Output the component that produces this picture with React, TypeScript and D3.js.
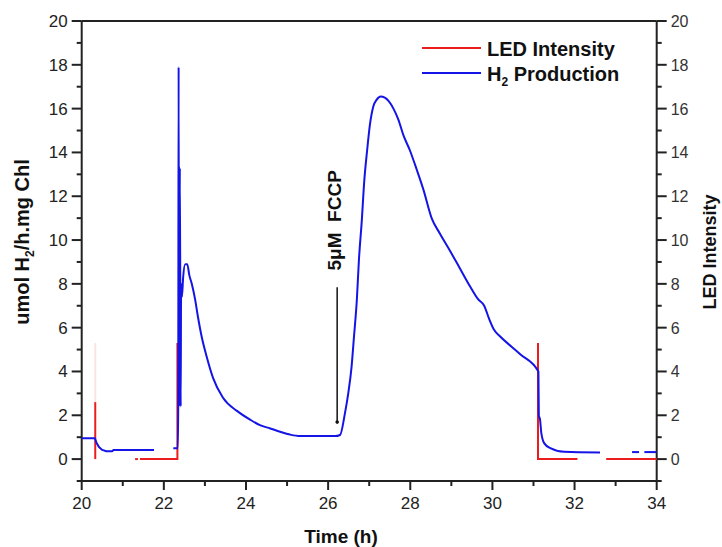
import React from "react";
import * as d3 from "d3";

// ---- data ----
const xTicksMajor = [20, 22, 24, 26, 28, 30, 32, 34];
const xTicksMinor = [21, 23, 25, 27, 29, 31, 33];
const yTicksMajor = [0, 2, 4, 6, 8, 10, 12, 14, 16, 18, 20];
const yTicksMinor = [-1, 1, 3, 5, 7, 9, 11, 13, 15, 17, 19];

// H2 production (umol H2/h.mg Chl), broken into recorded segments
const h2SegA: [number, number][] = [
  [20, 0.95], [20.32, 0.95], [20.36, 0.75], [20.42, 0.55], [20.5, 0.42], [20.6, 0.36],
  [20.74, 0.36], [20.78, 0.42], [21.76, 0.42],
];
const h2SegB: [number, number][] = [
  [22.23, 0.5], [22.34, 0.5], [22.35, 2.4], [22.36, 17.9], [22.37, 2.4], [22.39, 13.3],
  [22.41, 2.4], [22.42, 8.0], [22.44, 7.4], [22.47, 8.3], [22.52, 8.9], [22.57, 8.9],
  [22.62, 8.4], [22.68, 8.0], [22.76, 7.3], [22.83, 6.5], [22.92, 5.6], [23.04, 4.7],
  [23.2, 3.7], [23.44, 2.8], [23.78, 2.2], [24.1, 1.8], [24.34, 1.55], [24.59, 1.4],
  [24.83, 1.25], [25.07, 1.12], [25.32, 1.05], [26.17, 1.05], [26.29, 1.1], [26.41, 2.1],
  [26.49, 3.0], [26.57, 4.2], [26.63, 5.6], [26.7, 7.3], [26.75, 9.1], [26.82, 10.9],
  [26.88, 12.7], [26.95, 14.1], [27.02, 15.3], [27.1, 16.1], [27.18, 16.4], [27.28, 16.55],
  [27.38, 16.5], [27.47, 16.35], [27.59, 16.0], [27.71, 15.5], [27.83, 14.8], [27.99, 14.1],
  [28.16, 13.2], [28.32, 12.3], [28.52, 11.0], [28.72, 10.3], [28.97, 9.5], [29.21, 8.7],
  [29.45, 7.9], [29.65, 7.3], [29.8, 7.0], [29.92, 6.4], [30.04, 5.9], [30.19, 5.6],
  [30.67, 4.8], [31.12, 4.0], [31.13, 2.0], [31.16, 1.8], [31.19, 1.2], [31.26, 0.73],
  [31.41, 0.5], [31.75, 0.33], [32.62, 0.3],
];
const h2SegC: [number, number][] = [[33.4, 0.32], [33.57, 0.32]];
const h2SegD: [number, number][] = [[33.7, 0.32], [34, 0.32]];
const h2Segments = [h2SegA, h2SegB, h2SegC, h2SegD];

// LED intensity
const ledSegA: [number, number][] = [[20.33, 0], [20.33, 2.6]];
const ledSegB: [number, number][] = [[21.3, 0], [21.37, 0]];
const ledSegC: [number, number][] = [[21.42, 0], [22.33, 0], [22.33, 5.3]];
const ledSegD: [number, number][] = [[31.11, 5.3], [31.11, 0], [32.07, 0]];
const ledSegE: [number, number][] = [[32.77, 0], [34, 0]];
const ledSegments = [ledSegA, ledSegB, ledSegC, ledSegD, ledSegE];
const ledFaint: [number, number][] = [[20.33, 2.6], [20.33, 5.3]];

// annotation
const fccpTime = 26.22;
const fccpFrom = 7.85;
const fccpTo = 1.69;
const fccpTextY = 10.9;
const fccpLabel = "5\u03bcM\u00a0\u00a0FCCP";

export default function App() {
  const W = 722, H = 547;
  const x = d3.scaleLinear().domain([20, 34]).range([81.7, 656.7]);
  const y = d3.scaleLinear().domain([-1, 20]).range([481, 21]);
  const line = d3.line<[number, number]>().x(d => x(d[0])).y(d => y(d[1]));
  const smooth = d3.line<[number, number]>().x(d => x(d[0])).y(d => y(d[1])).curve(d3.curveMonotoneX);
  const font = "'Liberation Sans', Arial, sans-serif";
  const blue = "#1414e6";
  const red = "#ec1c1c";
  const axisCol = "#222";
  const x0 = x(20), x1 = x(34), yb = y(-1), yt = y(20);

  return (
    <svg width={W} height={H} style={{ position: "absolute", left: 0, top: 0, background: "#fff" }}
      fontFamily={font}>
      <rect x={0} y={0} width={W} height={H} fill="#fff" />
      {/* frame */}
      <line x1={x0} x2={x1} y1={yt} y2={yt} stroke={axisCol} strokeWidth={2} />
      <line x1={x0} x2={x1} y1={yb} y2={yb} stroke={axisCol} strokeWidth={2} />
      <line x1={x0} x2={x0} y1={yt} y2={yb} stroke={axisCol} strokeWidth={2} />
      <line x1={x1} x2={x1} y1={yt} y2={yb} stroke={axisCol} strokeWidth={2} />

      {/* x ticks */}
      {xTicksMajor.map(t => (
        <g key={"xm" + t}>
          <line x1={x(t)} x2={x(t)} y1={yb} y2={yb + 9} stroke={axisCol} strokeWidth={2} />
          <text x={x(t)} y={yb + 28} textAnchor="middle" fontSize={17} fill="#222">{t}</text>
        </g>
      ))}
      {xTicksMinor.map(t => (
        <line key={"xn" + t} x1={x(t)} x2={x(t)} y1={yb} y2={yb + 5} stroke={axisCol} strokeWidth={2} />
      ))}

      {/* left y ticks */}
      {yTicksMajor.map(t => (
        <g key={"ylm" + t}>
          <line x1={x0 - 10} x2={x0} y1={y(t)} y2={y(t)} stroke={axisCol} strokeWidth={2} />
          <text x={x0 - 14} y={y(t) + 6} textAnchor="end" fontSize={17} fill="#222">{t}</text>
        </g>
      ))}
      {yTicksMinor.map(t => (
        <line key={"yln" + t} x1={x0 - 5} x2={x0} y1={y(t)} y2={y(t)} stroke={axisCol} strokeWidth={2} />
      ))}

      {/* right y ticks */}
      {yTicksMajor.map(t => (
        <g key={"yrm" + t}>
          <line x1={x1} x2={x1 + 10} y1={y(t)} y2={y(t)} stroke={axisCol} strokeWidth={2} />
          <text x={x1 + 14} y={y(t) + 6} textAnchor="start" fontSize={16} fill="#333">{t}</text>
        </g>
      ))}
      {yTicksMinor.map(t => (
        <line key={"yrn" + t} x1={x1} x2={x1 + 5} y1={y(t)} y2={y(t)} stroke={axisCol} strokeWidth={2} />
      ))}

      {/* axis titles */}
      <text x={341} y={543} textAnchor="middle" fontSize={19} fontWeight="bold" fill="#111">Time (h)</text>
      <text transform={`translate(29,${242}) rotate(-90)`} textAnchor="middle" fontSize={20} fontWeight="bold" fill="#111">
        umol H<tspan fontSize={12} dy={5}>2</tspan><tspan dy={-5}>/h.mg Chl</tspan>
      </text>
      <text transform={`translate(716,${252}) rotate(-90)`} textAnchor="middle" fontSize={18} fontWeight="bold" fill="#111">
        LED Intensity
      </text>

      {/* LED intensity */}
      <path d={line(ledFaint) || ""} fill="none" stroke={red} strokeOpacity={0.12} strokeWidth={2} />
      {ledSegments.map((s, i) => (
        <path key={"led" + i} d={line(s) || ""} fill="none" stroke={red} strokeWidth={2} />
      ))}

      {/* H2 production */}
      {h2Segments.map((s, i) => (
        <path key={"h2" + i} d={(i === 1 ? smooth(s) : line(s)) || ""} fill="none" stroke={blue}
          strokeWidth={2} strokeLinejoin="round" />
      ))}

      {/* FCCP annotation */}
      <line x1={x(fccpTime)} x2={x(fccpTime)} y1={y(fccpFrom)} y2={y(fccpTo)} stroke="#111" strokeWidth={1.5} />
      <circle cx={x(fccpTime)} cy={y(fccpTo)} r={1.8} fill="#111" />
      <text transform={`translate(${x(fccpTime) + 4},${y(fccpTextY)}) rotate(-90)`} textAnchor="middle"
        fontSize={19} fontWeight="bold" fill="#111">{fccpLabel}</text>

      {/* legend */}
      <line x1={422} x2={481} y1={48} y2={48} stroke={red} strokeWidth={2} />
      <text x={487} y={56} fontSize={20} fontWeight="bold" fill="#111">LED Intensity</text>
      <line x1={422} x2={481} y1={73} y2={73} stroke={blue} strokeWidth={2} />
      <text x={487} y={81} fontSize={20} fontWeight="bold" fill="#111">
        H<tspan fontSize={12} dy={5}>2</tspan><tspan dy={-5}> Production</tspan>
      </text>
    </svg>
  );
}
